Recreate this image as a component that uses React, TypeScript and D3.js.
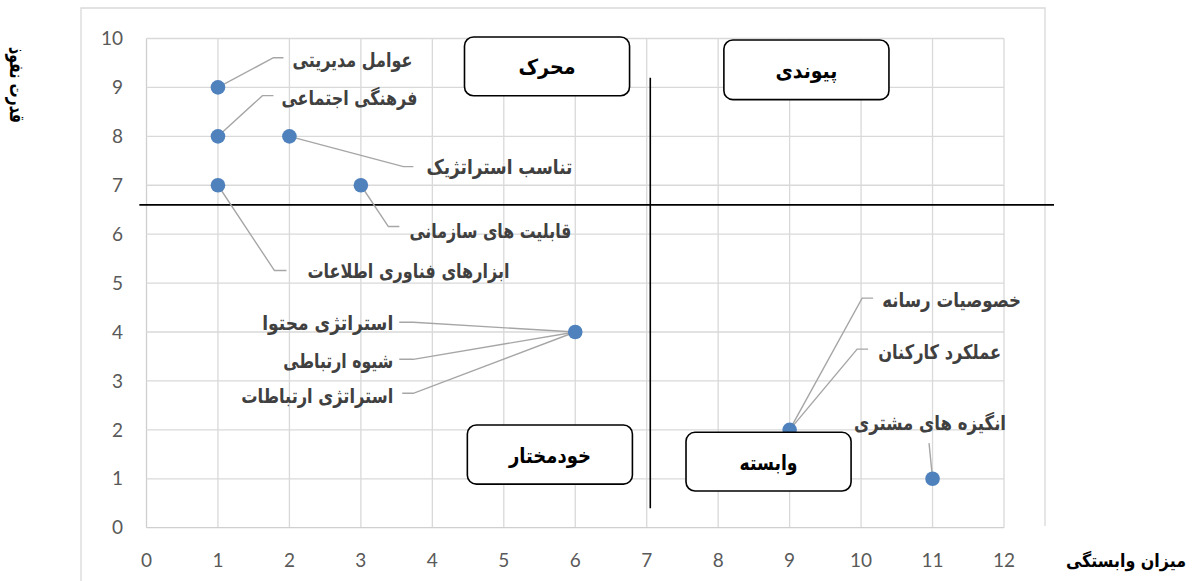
import React from "react";
import * as d3 from "d3";

// ---- data ----
const xTicks = [0, 1, 2, 3, 4, 5, 6, 7, 8, 9, 10, 11, 12];
const yTicks = [0, 1, 2, 3, 4, 5, 6, 7, 8, 9, 10];
const pointX = [1, 1, 2, 1, 3, 6, 9, 11];
const pointY = [9, 8, 8, 7, 7, 4, 2, 1];
const labelNames = [
  "عوامل مدیریتی",
  "فرهنگی اجتماعی",
  "تناسب استراتژیک",
  "قابلیت های سازمانی",
  "ابزارهای فناوری اطلاعات",
  "استراتژی محتوا",
  "شیوه ارتباطی",
  "استراتژی ارتباطات",
  "خصوصیات رسانه",
  "عملکرد کارکنان",
  "انگیزه های مشتری",
];
const labelPoint = [0, 1, 2, 4, 3, 5, 5, 5, 6, 6, 7];
const quadrantNames = ["محرک", "پیوندی", "خودمختار", "وابسته"];
const quadrantX0 = [4.45, 8.08, 4.49, 7.55];
const quadrantX1 = [6.76, 10.39, 6.8, 9.86];
const quadrantY0 = [8.83, 8.75, 0.89, 0.75];
const quadrantY1 = [10.03, 9.97, 2.1, 1.95];
const dividerY = 6.6;
const dividerX = 7.05;
const dividerXExtent = [-0.1, 12.7];
const dividerYExtent = [0.4, 9.2];
const xTitle = "میزان وابستگی";
const yTitle = "قدرت نفوذ";

// ---- label layout (pixel offsets from point) ----
const labelLayout = [
  { side: "r", dx: 74.5, dy: -27.7, w: 120, e1: 19, e2: 9, ly: -2 },
  { side: "r", dx: 63.5, dy: -38.7, w: 136, e1: 19, e2: 8, ly: -2 },
  { side: "r", dx: 137, dy: 30.3, w: 146, e1: 23, e2: 13, ly: 0 },
  { side: "r", dx: 48.5, dy: 45.3, w: 162, e1: 21, e2: 10, ly: -4 },
  { side: "r", dx: 89.5, dy: 85.3, w: 202, e1: 33, e2: 21, ly: 0 },
  { side: "l", dx: -182, dy: -9.7, w: 131, e1: 20, e2: 6, ly: 0 },
  { side: "l", dx: -182, dy: 28.3, w: 110, e1: 20, e2: 6, ly: -1 },
  { side: "l", dx: -182, dy: 63.3, w: 152, e1: 20, e2: 9, ly: -2 },
  { side: "r", dx: 92.5, dy: -130.7, w: 139, e1: 20, e2: 9, ly: -1 },
  { side: "r", dx: 88.5, dy: -78.7, w: 123, e1: 21, e2: 10, ly: -2 },
  { side: "b", dx: -2.5, dy: -56.7, w: 152, e1: 0, e2: 0, ly: 21 },
];
const quadrantTextW = [57, 62, 82, 58];

const W = 1192;
const H = 581;
const gridColor = "#d9d9d9";
const tickColor = "#595959";
const pointColor = "#4f81bd";
const leaderColor = "#a6a6a6";
const arabicFont = "'DejaVu Sans', sans-serif";
const numFont = "Lato, 'Open Sans', sans-serif";

export default function App() {
  const x = d3.scaleLinear().domain([0, 12]).range([146.5, 1004]);
  const y = d3.scaleLinear().domain([0, 10]).range([527.7, 38.5]);

  return (
    <svg
      width={W}
      height={H}
      style={{ position: "absolute", left: 0, top: 0, background: "#fff" }}
    >
      <path d="M81,581 V8 H1045 V526" fill="none" stroke={gridColor} strokeWidth={1.3} />

      {xTicks.map((t) => (
        <line
          key={"gx" + t}
          x1={x(t)}
          x2={x(t)}
          y1={y(0)}
          y2={y(10)}
          stroke={t === 0 ? "#cfcfcf" : gridColor}
          strokeWidth={1.3}
        />
      ))}
      {yTicks.map((t) => (
        <line
          key={"gy" + t}
          x1={x(0)}
          x2={x(12)}
          y1={y(t)}
          y2={y(t)}
          stroke={t === 0 ? "#cfcfcf" : gridColor}
          strokeWidth={1.3}
        />
      ))}

      {yTicks.map((t) => (
        <text
          key={"ty" + t}
          x={123}
          y={y(t)}
          dy="0.35em"
          textAnchor="end"
          fontFamily={numFont}
          fontSize={19}
          fill={tickColor}
        >
          {t}
        </text>
      ))}
      {xTicks.map((t) => (
        <text
          key={"tx" + t}
          x={x(t)}
          y={560}
          dy="0.35em"
          textAnchor="middle"
          fontFamily={numFont}
          fontSize={19}
          fill={tickColor}
        >
          {t}
        </text>
      ))}

      <line
        x1={x(dividerXExtent[0])}
        x2={x(dividerXExtent[1])}
        y1={y(dividerY)}
        y2={y(dividerY)}
        stroke="#000"
        strokeWidth={1.6}
      />
      <line
        x1={x(dividerX)}
        x2={x(dividerX)}
        y1={y(dividerYExtent[0])}
        y2={y(dividerYExtent[1])}
        stroke="#000"
        strokeWidth={1.6}
      />

      {labelLayout.map((L, i) => {
        const pi = labelPoint[i];
        const px = x(pointX[pi]);
        const py = y(pointY[pi]);
        const tx = px + L.dx;
        const ty = py + L.dy;
        let pts: [number, number][];
        if (L.side === "r") {
          pts = [
            [px, py],
            [tx - L.e1, ty + L.ly],
            [tx - L.e2, ty + L.ly],
          ];
        } else if (L.side === "l") {
          pts = [
            [px, py],
            [tx + L.e1, ty + L.ly],
            [tx + L.e2, ty + L.ly],
          ];
        } else {
          pts = [
            [px, py],
            [tx - 1, ty + L.ly],
          ];
        }
        return (
          <path
            key={"ll" + i}
            d={d3.line()(pts) || ""}
            fill="none"
            stroke={leaderColor}
            strokeWidth={1.4}
          />
        );
      })}

      {pointX.map((px, i) => (
        <circle key={"p" + i} cx={x(px)} cy={y(pointY[i])} r={7.3} fill={pointColor} />
      ))}

      {labelLayout.map((L, i) => {
        const pi = labelPoint[i];
        const px = x(pointX[pi]);
        const py = y(pointY[pi]);
        const anchor = L.side === "r" ? "start" : L.side === "l" ? "end" : "middle";
        return (
          <text
            key={"lb" + i}
            x={px + L.dx}
            y={py + L.dy}
            dy="0.38em"
            textAnchor={anchor}
            fontFamily={arabicFont}
            fontWeight="bold"
            fontSize={20}
            fill="#404040"
            textLength={L.w}
            lengthAdjust="spacingAndGlyphs"
          >
            {labelNames[i]}
          </text>
        );
      })}

      {quadrantNames.map((q, i) => {
        const bx0 = x(quadrantX0[i]);
        const bx1 = x(quadrantX1[i]);
        const by0 = y(quadrantY1[i]);
        const by1 = y(quadrantY0[i]);
        return (
          <g key={"q" + i}>
            <rect
              x={bx0}
              y={by0}
              width={bx1 - bx0}
              height={by1 - by0}
              rx={9}
              ry={9}
              fill="#fff"
              stroke="#000"
              strokeWidth={1.6}
            />
            <text
              x={(bx0 + bx1) / 2}
              y={(by0 + by1) / 2}
              dy="0.38em"
              textAnchor="middle"
              fontFamily={arabicFont}
              fontWeight="bold"
              fontSize={21}
              fill="#000"
              textLength={quadrantTextW[i]}
              lengthAdjust="spacingAndGlyphs"
            >
              {q}
            </text>
          </g>
        );
      })}

      <text
        x={1126}
        y={560}
        dy="0.38em"
        textAnchor="middle"
        fontFamily={arabicFont}
        fontWeight="bold"
        fontSize={18}
        fill="#000"
        textLength={120}
        lengthAdjust="spacingAndGlyphs"
      >
        {xTitle}
      </text>
      <text
        transform="translate(18,85) rotate(90)"
        x={0}
        y={0}
        dy="0.38em"
        textAnchor="middle"
        fontFamily={arabicFont}
        fontWeight="bold"
        fontSize={20}
        fill="#000"
        textLength={76}
        lengthAdjust="spacingAndGlyphs"
      >
        {yTitle}
      </text>
    </svg>
  );
}
